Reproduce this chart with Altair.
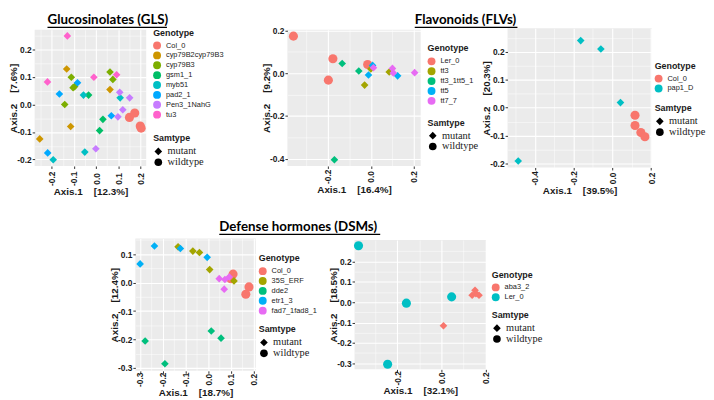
import altair as alt
import pandas as pd

MUT, WT = "mutant", "wildtype"
SAM_DOMAIN = [MUT, WT]

# ---------------- Glucosinolates (GLS) ----------------
GLS_GENOTYPES = ["Col_0", "cyp79B2cyp79B3", "cyp79B3", "gsm1_1", "myb51", "pad2_1", "Pen3_1NahG", "tu3"]
GLS_COLORS = ["#F8766D", "#CD9600", "#7CAE00", "#00BE67", "#00BFC4", "#00A9FF", "#C77CFF", "#FF61CC"]
GLS_GENO = ["Col_0"] * 4 + ["cyp79B2cyp79B3"] * 4 + ["cyp79B3"] * 6 + ["gsm1_1"] * 3 + ["myb51"] * 4 + ["pad2_1"] * 4 + ["Pen3_1NahG"] * 5 + ["tu3"] * 4
GLS_SAM = [WT] * 4 + [MUT] * 30
GLS_X = [0.151, 0.175, 0.200, 0.204,
         -0.133, 0.063, -0.115, -0.255,
         -0.112, -0.104, -0.097, -0.142, 0.063, 0.076,
         -0.034, 0.031, 0.016,
         -0.057, 0.109, -0.051, -0.194,
         -0.084, -0.166, 0.069, -0.219,
         0.107, 0.152, 0.121, 0.099, -0.001,
         -0.130, -0.220, -0.010, 0.093]
GLS_Y = [-0.047, -0.031, -0.078, -0.086,
         0.129, 0.054, -0.080, -0.125,
         0.099, 0.061, 0.065, 0.000, 0.118, 0.091,
         0.034, -0.054, -0.095,
         0.034, 0.024, -0.173, -0.201,
         0.079, 0.038, -0.041, -0.176,
         0.044, 0.024, -0.019, -0.045, -0.161,
         0.249, 0.082, 0.099, 0.108]
GLS_XMAJ = [-0.2, -0.1, 0.0, 0.1, 0.2]
GLS_XMIN = [-0.25, -0.15, -0.05, 0.05, 0.15]
GLS_YMAJ = [-0.2, -0.1, 0.0, 0.1, 0.2]
GLS_YMIN = [-0.15, -0.05, 0.05, 0.15, 0.25]

# ---------------- Flavonoids (FLVs), left ----------------
FLV1_GENOTYPES = ["Ler_0", "tt3", "tt3_1tt5_1", "tt5", "tt7_7"]
FLV1_COLORS = ["#F8766D", "#A3A500", "#00BF7D", "#00B0F6", "#E76BF3"]
FLV1_GENO = ["Ler_0"] * 4 + ["tt3"] * 3 + ["tt3_1tt5_1"] * 3 + ["tt5"] * 3 + ["tt7_7"] * 4
FLV1_SAM = [WT] * 4 + [MUT] * 13
FLV1_X = [-0.359, -0.176, -0.197, -0.015,
          -0.029, 0.085, 0.000,
          -0.133, -0.056, -0.169,
          -0.011, 0.008, 0.124,
          0.012, 0.100, 0.104, 0.203]
FLV1_Y = [0.174, 0.068, -0.032, 0.041,
          -0.055, 0.006, 0.020,
          0.046, 0.011, -0.405,
          -0.008, 0.037, -0.012,
          0.026, 0.023, 0.002, 0.003]
FLV1_XMAJ = [-0.2, 0.0, 0.2]
FLV1_XMIN = [-0.3, -0.1, 0.1]
FLV1_YMAJ = [-0.4, -0.2, 0.0, 0.2]
FLV1_YMIN = [-0.3, -0.1, 0.1]

# ---------------- Flavonoids (FLVs), right ----------------
FLV2_GENOTYPES = ["Col_0", "pap1_D"]
FLV2_COLORS = ["#F8766D", "#00BFC4"]
FLV2_GENO = ["Col_0"] * 4 + ["pap1_D"] * 4
FLV2_SAM = [WT] * 4 + [MUT] * 4
FLV2_X = [0.117, 0.117, 0.147, 0.168, -0.485, -0.163, -0.059, 0.042]
FLV2_Y = [-0.027, -0.064, -0.089, -0.104, -0.191, 0.240, 0.210, 0.018]
FLV2_XMAJ = [-0.4, -0.2, 0.0, 0.2]
FLV2_XMIN = [-0.5, -0.3, -0.1, 0.1]
FLV2_YMAJ = [-0.2, -0.1, 0.0, 0.1, 0.2]
FLV2_YMIN = [-0.15, -0.05, 0.05, 0.15, 0.25]

# ---------------- Defense hormones (DSMs), left ----------------
DSM1_GENOTYPES = ["Col_0", "35S_ERF", "dde2", "etr1_3", "fad7_1fad8_1"]
DSM1_COLORS = ["#F8766D", "#A3A500", "#00BF7D", "#00B0F6", "#E76BF3"]
DSM1_GENO = ["Col_0"] * 4 + ["35S_ERF"] * 5 + ["dde2"] * 4 + ["etr1_3"] * 4 + ["fad7_1fad8_1"] * 4
DSM1_SAM = [WT] * 4 + [MUT] * 17
DSM1_X = [0.110, 0.100, 0.180, 0.166,
          -0.132, -0.067, -0.038, 0.007, 0.114,
          -0.277, -0.190, 0.014, 0.057,
          -0.236, -0.299, -0.122, -0.004,
          0.049, 0.074, 0.071, 0.093]
DSM1_Y = [0.030, 0.014, -0.015, -0.041,
          0.126, 0.111, 0.106, 0.046, 0.006,
          -0.205, -0.285, -0.170, -0.195,
          0.129, 0.066, 0.120, 0.089,
          0.014, 0.011, -0.023, 0.020]
DSM1_XMAJ = [-0.3, -0.2, -0.1, 0.0, 0.1, 0.2]
DSM1_XMIN = [-0.25, -0.15, -0.05, 0.05, 0.15]
DSM1_YMAJ = [-0.3, -0.2, -0.1, 0.0, 0.1]
DSM1_YMIN = [-0.25, -0.15, -0.05, 0.05, 0.15]

# ---------------- Defense hormones (DSMs), right ----------------
DSM2_GENOTYPES = ["aba3_2", "Ler_0"]
DSM2_COLORS = ["#F8766D", "#00BFC4"]
DSM2_GENO = ["aba3_2"] * 5 + ["Ler_0"] * 4
DSM2_SAM = [MUT] * 5 + [WT] * 4
DSM2_X = [0.009, 0.152, 0.139, 0.170, 0.156, -0.376, -0.159, 0.046, -0.244]
DSM2_Y = [-0.116, 0.058, 0.034, 0.034, 0.042, 0.277, -0.005, 0.026, -0.305]
DSM2_XMAJ = [-0.2, 0.0, 0.2]
DSM2_XMIN = [-0.3, -0.1, 0.1]
DSM2_YMAJ = [-0.3, -0.2, -0.1, 0.0, 0.1, 0.2]
DSM2_YMIN = [-0.25, -0.15, -0.05, 0.05, 0.15, 0.25]

AXFONT = "Liberation Sans"
TITLEFONT = "Lato"


def make_axis(title, majors, minors, is_x, lab_pad):
    vals = sorted(majors + minors)
    maj = "[" + ",".join(repr(v) for v in majors) + "]"
    test = "indexof(" + maj + ", datum.value) >= 0"
    lab = ("indexof(" + maj + ", datum.value) >= 0 ? "
           "(datum.value < 0 ? '-' : '') + format(abs(datum.value), '.1f') : ''")
    kw = dict(
        title=title, values=vals, labelExpr=lab, domain=False,
        grid=True, gridColor="white",
        gridWidth={"condition": {"test": test, "value": 1.1}, "value": 0.5},
        tickColor={"condition": {"test": test, "value": "#333333"}, "value": "transparent"},
        tickSize=2.5, tickWidth=1,
        labelFont=AXFONT, labelFontWeight="bold", labelFontSize=8.5, labelColor="#1a1a1a",
        titleFont=AXFONT, titleFontWeight="bold", titleFontSize=10, titleColor="#1a1a1a",
        labelOverlap=False, labelFlush=False,
    )
    if is_x:
        kw.update(labelAngle=270, labelAlign="center", labelBaseline="middle",
                  labelPadding=lab_pad, titlePadding=1)
    else:
        kw.update(labelPadding=1, titlePadding=-2)
    return alt.Axis(**kw)


def panel(geno, sam, xs, ys, genotypes, colors, xdom, ydom, xmaj, xmin, ymaj, ymin,
          w, h, xt, yt, legx, legy_g, legy_s, xlabpad, title=None):
    df = pd.DataFrame({"x": xs, "y": ys, "Genotype": geno, "Samtype": sam, "Marker": sam})
    pts = alt.Chart(df).mark_point(filled=True, opacity=1, strokeWidth=0).encode(
        x=alt.X("x:Q", scale=alt.Scale(domain=xdom, nice=False, zero=False),
                axis=make_axis(xt, xmaj, xmin, True, xlabpad)),
        y=alt.Y("y:Q", scale=alt.Scale(domain=ydom, nice=False, zero=False),
                axis=make_axis(yt, ymaj, ymin, False, 1)),
        color=alt.Color("Genotype:N", scale=alt.Scale(domain=genotypes, range=colors),
                        legend=alt.Legend(title="Genotype", orient="none", legendX=legx, legendY=legy_g,
                                          direction="vertical", symbolType="circle", symbolSize=64,
                                          symbolStrokeWidth=0, symbolOpacity=1,
                                          titleFont=AXFONT, titleFontWeight="bold", titleFontSize=9,
                                          titleColor="#1a1a1a", titlePadding=4,
                                          labelFont=AXFONT, labelFontSize=7.5, labelColor="#1a1a1a",
                                          labelOffset=5, rowPadding=2)),
        shape=alt.Shape("Samtype:N", scale=alt.Scale(domain=SAM_DOMAIN, range=["diamond", "circle"]),
                        legend=alt.Legend(title="Samtype", orient="none", legendX=legx, legendY=legy_s,
                                          direction="vertical", symbolSize=60,
                                          symbolFillColor="black", symbolStrokeColor="black",
                                          symbolStrokeWidth=0, symbolOpacity=1,
                                          titleFont=AXFONT, titleFontWeight="bold", titleFontSize=9,
                                          titleColor="#1a1a1a", titlePadding=3,
                                          labelFont="Liberation Serif", labelFontSize=10.5,
                                          labelColor="#1a1a1a", labelOffset=4, rowPadding=0)),
        # size scale uses a reversed domain so it is not merged with the shape legend
        size=alt.Size("Marker:N", scale=alt.Scale(domain=[WT, MUT], range=[85, 60]), legend=None),
    )
    layers = [pts]
    if title is not None:
        text, tx, ty, ux2 = title
        tdf = pd.DataFrame({"t": [text]})
        layers.append(alt.Chart(tdf).mark_text(align="left", baseline="alphabetic", font=TITLEFONT,
                                               fontWeight="bold", fontSize=13.5, color="black").encode(
            text="t:N", x=alt.value(tx), y=alt.value(ty)))
        layers.append(alt.Chart(tdf).mark_rule(color="black", strokeWidth=1.3).encode(
            x=alt.value(tx), x2=alt.value(ux2), y=alt.value(ty + 3.5)))
    return alt.layer(*layers).properties(
        width=w, height=h, view=alt.ViewBackground(fill="#EBEBEB", strokeWidth=0))


def spacer(w):
    return alt.Chart(pd.DataFrame({"k": [0]})).mark_point(opacity=0, size=1).encode(
        x=alt.value(0), y=alt.value(0)).properties(
        width=w, height=10, view=alt.ViewBackground(fill="transparent", strokeWidth=0))


SP = "\u00a0\u00a0\u00a0\u00a0"

gls = panel(GLS_GENO, GLS_SAM, GLS_X, GLS_Y, GLS_GENOTYPES, GLS_COLORS,
            [-0.278, 0.227], [-0.2235, 0.2715], GLS_XMAJ, GLS_XMIN, GLS_YMAJ, GLS_YMIN,
            113, 138, "Axis.1" + SP + "[12.3%]", "Axis.2" + SP + "[7.6%]", 120, -1, 106, 10,
            title=("Glucosinolates (GLS)", 13, -6, 134))
flv1 = panel(FLV1_GENO, FLV1_SAM, FLV1_X, FLV1_Y, FLV1_GENOTYPES, FLV1_COLORS,
             [-0.387, 0.231], [-0.434, 0.204], FLV1_XMAJ, FLV1_XMIN, FLV1_YMAJ, FLV1_YMIN,
             135, 138, "Axis.1" + SP + "[16.4%]", "Axis.2" + SP + "[9.2%]", 142, 15, 90, 8,
             title=("Flavonoids (FLVs)", 129, -6, 233))
flv2 = panel(FLV2_GENO, FLV2_SAM, FLV2_X, FLV2_Y, FLV2_GENOTYPES, FLV2_COLORS,
             [-0.54, 0.203], [-0.214, 0.284], FLV2_XMAJ, FLV2_XMIN, FLV2_YMAJ, FLV2_YMIN,
             146, 141, "Axis.1" + SP + "[39.5%]", "Axis.2" + SP + "[20.3%]", 149, 34, 77, 8)
dsm1 = panel(DSM1_GENO, DSM1_SAM, DSM1_X, DSM1_Y, DSM1_GENOTYPES, DSM1_COLORS,
             [-0.32, 0.21], [-0.31, 0.155], DSM1_XMAJ, DSM1_XMIN, DSM1_YMAJ, DSM1_YMIN,
             122, 134, "Axis.1" + SP + "[18.7%]", "Axis.2" + SP + "[12.4%]", 125, 16, 88, 6,
             title=("Defense hormones (DSMs)", 85, -7.7, 248))
dsm2 = panel(DSM2_GENO, DSM2_SAM, DSM2_X, DSM2_Y, DSM2_GENOTYPES, DSM2_COLORS,
             [-0.394, 0.201], [-0.33, 0.305], DSM2_XMAJ, DSM2_XMIN, DSM2_YMAJ, DSM2_YMIN,
             133, 131, "Axis.1" + SP + "[32.1%]", "Axis.2" + SP + "[18.5%]", 139, 31, 72, 6)

RES = dict(color="independent", shape="independent", size="independent")

top = alt.hconcat(gls, spacer(143), flv1, spacer(88), flv2,
                  spacing=0, bounds="flush", center=True).resolve_scale(**RES)
bottom = alt.hconcat(spacer(102), dsm1, spacer(100), dsm2,
                     spacing=0, bounds="flush", center=True).resolve_scale(**RES)

chart = alt.vconcat(top, bottom, spacing=23).resolve_scale(**RES).properties(
    padding={"top": 2, "left": 0, "right": 0, "bottom": 0}).configure_view(strokeWidth=0)

chart.save("out.html", embed_options={"renderer": "svg", "actions": False})
